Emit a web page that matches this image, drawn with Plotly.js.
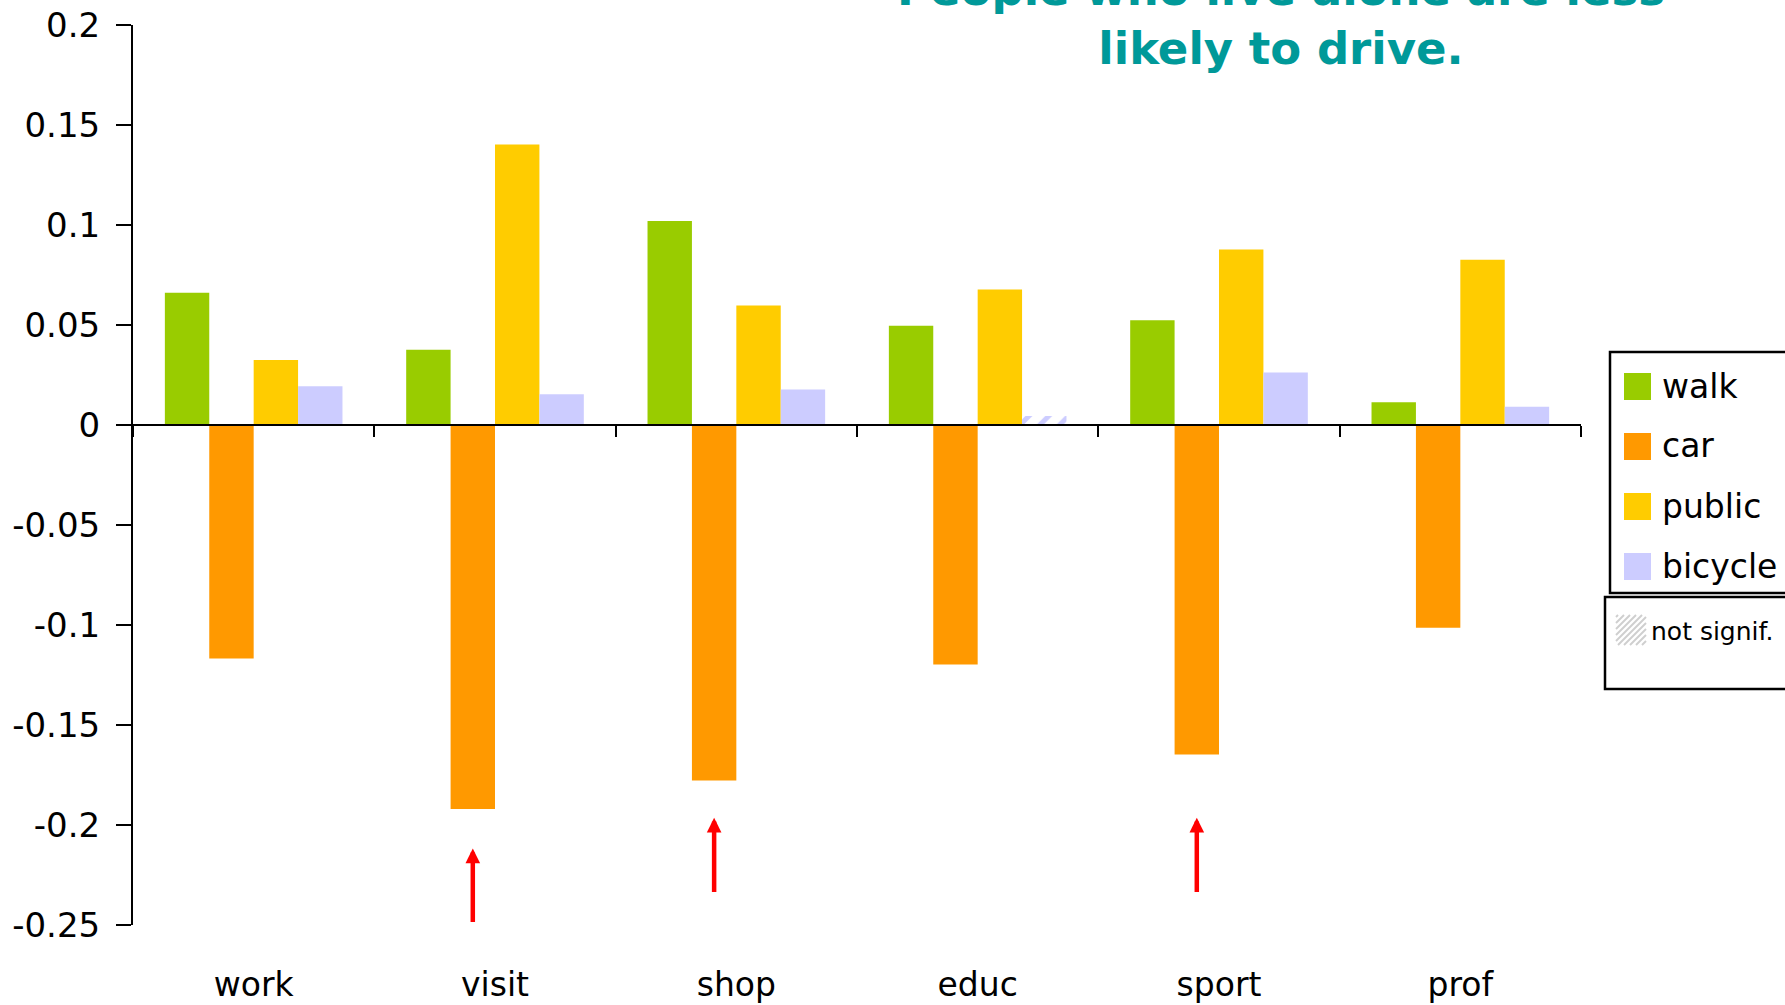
<!DOCTYPE html>
<html>
<head>
<meta charset="utf-8">
<script src="https://cdn.plot.ly/plotly-3.0.1.min.js"></script>
<style>html,body{margin:0;padding:0;background:#fff;}#chart{width:1785px;height:1005px;}</style>
</head>
<body>
<div id="chart"></div>
<script>
// ---- data ----
const categories = ['work', 'visit', 'shop', 'educ', 'sport', 'prof'];
const seriesNames = ['walk', 'car', 'public', 'bicycle'];
const walk    = [0.0661, 0.0376, 0.1020, 0.0496, 0.0524, 0.0114];
const car     = [-0.1168, -0.1920, -0.1778, -0.1197, -0.1647, -0.1014];
const pub     = [0.0325, 0.1402, 0.0598, 0.0678, 0.0877, 0.0826];
const bicycle = [0.0194, 0.0154, 0.0177, 0.0045, 0.0262, 0.0091];
const bicycleSignificant = [true, true, true, false, true, true];
const yTickVals = [0.2, 0.15, 0.1, 0.05, 0, -0.05, -0.1, -0.15, -0.2, -0.25];
const yTickText = ['0.2', '0.15', '0.1', '0.05', '0', '-0.05', '-0.1', '-0.15', '-0.2', '-0.25'];
const arrowCats = ['visit', 'shop', 'sport'];
const arrowTip  = [-0.2118, -0.1964, -0.1964];
const arrowTail = [-0.2492, -0.2342, -0.2342];
const titleText = 'People who live alone are less<br>likely to drive.';
const notSignifLabel = 'not signif.';

// ---- styles ----
const seriesColors = ['#99CC00', '#FF9900', '#FFCC00', '#CCCCFF'];
const W = 1785, H = 1005;
const M = {l: 133, r: 204, t: 25, b: 80};
const plotW = W - M.l - M.r, plotH = H - M.t - M.b;
const px2x = p => (p - M.l) / plotW;
const py2y = p => (H - M.b - p) / plotH;
const bargap = 0.264;
const yRange = [-0.25, 0.2];

const seriesValues = [walk, car, pub, bicycle];
const traces = seriesValues.map((vals, i) => {
  const t = {
    type: 'bar', x: categories, y: vals, name: seriesNames[i],
    marker: {color: seriesColors[i], line: {width: 0}},
    showlegend: false
  };
  if (seriesNames[i] === 'bicycle') {
    t.marker.pattern = {
      shape: bicycleSignificant.map(s => s ? '' : '/'),
      fgcolor: seriesColors[i], bgcolor: '#FFFFFF', size: 14, solidity: 0.35, fillmode: 'replace'
    };
  }
  return t;
});

const shapes = [];
const annotations = [];

// title
annotations.push({
  xref: 'paper', yref: 'paper', x: px2x(1281), y: py2y(77), xanchor: 'center', yanchor: 'bottom',
  text: titleText, showarrow: false, align: 'center',
  font: {family: 'DejaVu Sans', size: 45, color: '#009999', weight: 'bold'}
});

// arrows under car bars
const barW = (1 - bargap) / seriesNames.length;
const carOffset = (1 - (seriesNames.length - 1) / 2) * barW;
arrowCats.forEach((c, i) => {
  annotations.push({
    xref: 'x', yref: 'y', x: categories.indexOf(c) + carOffset, y: arrowTip[i],
    axref: 'pixel', ayref: 'y', ax: 0, ay: arrowTail[i],
    text: '', showarrow: true, arrowhead: 2, arrowsize: 0.65, arrowwidth: 4.5, arrowcolor: '#FF0000'
  });
});

// legend box 1
shapes.push({type: 'rect', xref: 'paper', yref: 'paper', x0: px2x(1610), x1: px2x(1800), y0: py2y(593), y1: py2y(352),
  line: {color: '#000', width: 2.5}, fillcolor: 'rgba(0,0,0,0)'});
seriesNames.forEach((n, i) => {
  const top = 373 + 60 * i;
  shapes.push({type: 'rect', xref: 'paper', yref: 'paper', x0: px2x(1624), x1: px2x(1651), y0: py2y(top + 27), y1: py2y(top),
    line: {width: 0}, fillcolor: seriesColors[i]});
  annotations.push({xref: 'paper', yref: 'paper', x: px2x(1660), y: py2y(top + 13), xanchor: 'left', yanchor: 'middle',
    text: n, showarrow: false, font: {family: 'DejaVu Sans', size: 33, color: '#000'}});
});
// legend box 2
shapes.push({type: 'rect', xref: 'paper', yref: 'paper', x0: px2x(1605), x1: px2x(1800), y0: py2y(689), y1: py2y(597),
  line: {color: '#000', width: 2.5}, fillcolor: 'rgba(0,0,0,0)'});
// hatched swatch
(function () {
  const x0 = 1616, y1 = 645, s = 30, step = 6;
  for (let c = -s + 2; c < s; c += step) {
    const v0 = Math.max(0, -c), v1 = Math.min(s, s - c);
    shapes.push({type: 'line', xref: 'paper', yref: 'paper',
      x0: px2x(x0 + v0 + c), y0: py2y(y1 - v0), x1: px2x(x0 + v1 + c), y1: py2y(y1 - v1),
      line: {color: '#CFCFCF', width: 2}});
  }
})();
annotations.push({xref: 'paper', yref: 'paper', x: px2x(1649), y: py2y(631), xanchor: 'left', yanchor: 'middle',
  text: notSignifLabel, showarrow: false, font: {family: 'DejaVu Sans', size: 25, color: '#000'}});

const layout = {
  width: W, height: H,
  margin: M,
  paper_bgcolor: '#FFFFFF', plot_bgcolor: '#FFFFFF',
  barmode: 'group', bargap: bargap, bargroupgap: 0,
  showlegend: false,
  font: {family: 'DejaVu Sans', color: '#000'},
  xaxis: {
    type: 'category', categoryorder: 'array', categoryarray: categories,
    anchor: 'free', position: (0 - yRange[0]) / (yRange[1] - yRange[0]),
    showline: true, linecolor: '#000', linewidth: 2,
    ticks: 'outside', ticklen: 11, tickwidth: 2, tickcolor: '#000', tickson: 'boundaries',
    showgrid: false, zeroline: false,
    tickfont: {family: 'DejaVu Sans', size: 33, color: '#000'},
    ticklabelstandoff: 530
  },
  yaxis: {
    range: yRange, tickvals: yTickVals, ticktext: yTickText,
    showline: true, linecolor: '#000', linewidth: 2,
    ticks: 'outside', ticklen: 15, tickwidth: 2, tickcolor: '#000',
    showgrid: false, zeroline: false,
    tickfont: {family: 'DejaVu Sans', size: 34, color: '#000'},
    ticklabelstandoff: 9
  },
  shapes: shapes,
  annotations: annotations
};

Plotly.newPlot('chart', traces, layout, {displayModeBar: false, responsive: false});
</script>
</body>
</html>
